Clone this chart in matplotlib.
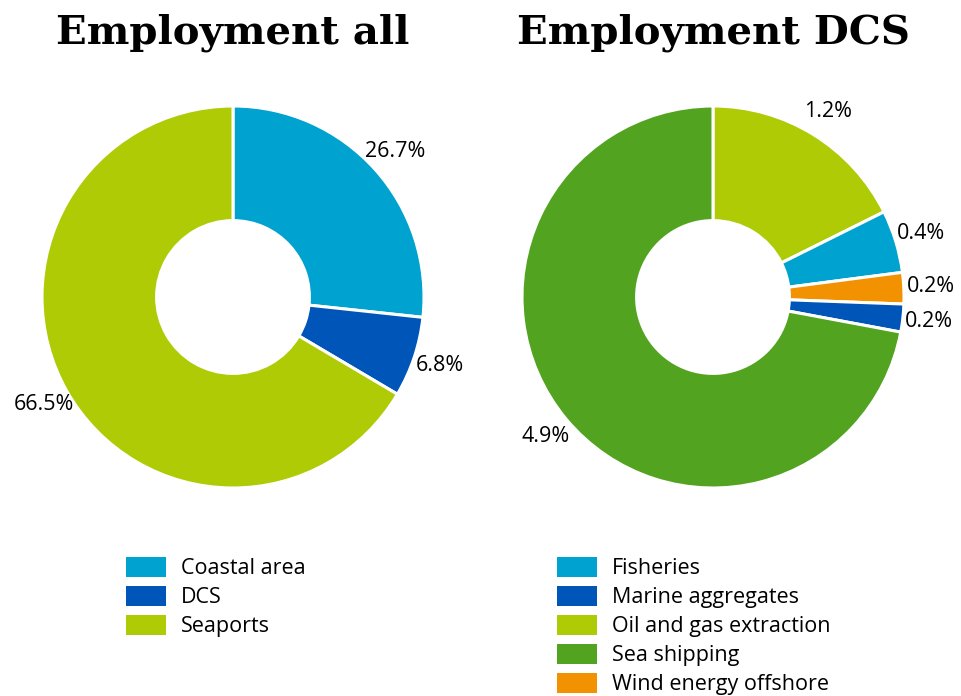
import numpy as np
import matplotlib
matplotlib.use("Agg")
import matplotlib.pyplot as plt
from matplotlib.patches import Patch

# Data ______________________________________________________________________
all_labels = ["Coastal area", "DCS", "Seaports"]
all_values = [26.7, 6.8, 66.5]

# DCS breakdown (shares of total employment, sum = 6.8)
dcs_labels = ["Oil and gas extraction", "Fisheries", "Wind energy offshore",
              "Marine aggregates", "Sea shipping"]
dcs_values = [1.2, 0.36, 0.18, 0.16, 4.9]

all_legend = ["Coastal area", "DCS", "Seaports"]
dcs_legend = ["Fisheries", "Marine aggregates", "Oil and gas extraction",
              "Sea shipping", "Wind energy offshore"]

colors = {
    "Coastal area": "#00a2cf",
    "DCS": "#0055b8",
    "Seaports": "#afcb05",
    "Fisheries": "#00a2cf",
    "Marine aggregates": "#0055b8",
    "Oil and gas extraction": "#afcb05",
    "Sea shipping": "#52a31f",
    "Wind energy offshore": "#f39200",
}

plt.rcParams['font.family'] = ['Open Sans', 'DejaVu Sans']

W, H = 961, 696
fig = plt.figure(figsize=(W / 100, H / 100), dpi=100)

R_PX = 191      # outer radius in pixels
BOX = 460       # axes box size in pixels
lim = BOX / (2 * R_PX)


def donut(cx, cy, labels, values, title, legend_names, legend_x):
    ax = fig.add_axes([(cx - BOX / 2) / W, (H - cy - BOX / 2) / H, BOX / W, BOX / H])
    wedges, texts = ax.pie(values, labels=[f"{v:.1f}%" for v in values],
                           colors=[colors[l] for l in labels],
                           startangle=90, counterclock=False, radius=1.0,
                           labeldistance=1.14,
                           wedgeprops=dict(width=0.6, edgecolor="white", linewidth=2.2),
                           textprops=dict(fontsize=15.5, color="#000000"))
    for t in texts:
        t.set_ha("center")
        t.set_va("center")
    ax.set_xlim(-lim, lim)
    ax.set_ylim(-lim, lim)
    ax.set_aspect("equal")
    ax.axis("off")
    fig.text(cx / W, 1 - 33 / H, title, ha="center", va="center",
             fontsize=29, fontweight="bold", family="DejaVu Serif")
    handles = [Patch(facecolor=colors[n], edgecolor="none") for n in legend_names]
    fig.legend(handles, legend_names, loc="upper left",
               bbox_to_anchor=(legend_x / W, 1 - 557 / H), frameon=False,
               fontsize=15.5, handlelength=1.86, handleheight=1.02,
               handletextpad=0.7, labelspacing=0.32, borderpad=0, borderaxespad=0)
    return ax


donut(233, 297, all_labels, all_values, "Employment all", all_legend, 126)
donut(713, 297, dcs_labels, dcs_values, "Employment DCS", dcs_legend, 557)

fig.savefig("out.png", dpi=100)
